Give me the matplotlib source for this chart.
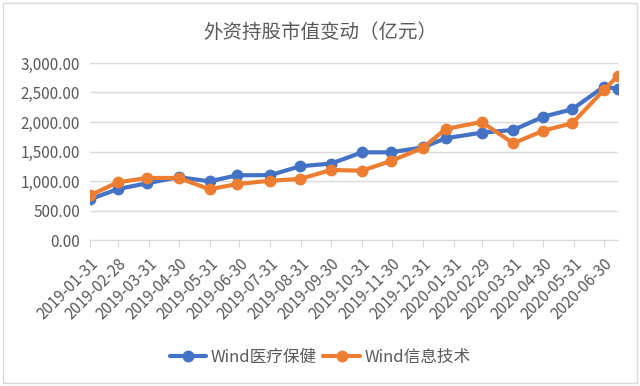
import matplotlib
matplotlib.use("Agg")
import matplotlib.pyplot as plt
from matplotlib.patches import Rectangle
import pandas as pd

plt.rcParams['font.family'] = ['Noto Sans CJK SC', 'DejaVu Sans']

# trading-day dates of each observation
dates = ['2019-01-31', '2019-02-28', '2019-03-29', '2019-04-30', '2019-05-31',
         '2019-06-28', '2019-07-31', '2019-08-30', '2019-09-30', '2019-10-31',
         '2019-11-29', '2019-12-31', '2020-01-23', '2020-02-28', '2020-03-31',
         '2020-04-30', '2020-05-29', '2020-06-30', '2020-07-14']
healthcare = [690, 864, 961, 1065, 995, 1097, 1100, 1250, 1295, 1486,
              1486, 1570, 1724, 1819, 1865, 2090, 2215, 2600, 2560]
infotech = [757, 978, 1051, 1052, 860, 949, 1005, 1035, 1187, 1175,
            1339, 1560, 1881, 2000, 1639, 1853, 1978, 2543, 2785]
tick_dates = ['2019-01-31', '2019-02-28', '2019-03-31', '2019-04-30', '2019-05-31',
              '2019-06-30', '2019-07-31', '2019-08-31', '2019-09-30', '2019-10-31',
              '2019-11-30', '2019-12-31', '2020-01-31', '2020-02-29', '2020-03-31',
              '2020-04-30', '2020-05-31', '2020-06-30']
yticks = [0, 500, 1000, 1500, 2000, 2500, 3000]

x = pd.to_datetime(dates)
gray = '#595959'

fig = plt.figure(figsize=(6.4, 3.86), dpi=100)
fig.patches.append(Rectangle((0.005, 0.008), 0.99, 0.985, transform=fig.transFigure,
                             fill=False, edgecolor='#d9d9d9', linewidth=1))
ax = fig.add_axes([0.1406, 0.3782, 0.8250, 0.4586])

ax.plot(x, healthcare, color='#4472C4', lw=3, marker='o', ms=7.5, label='Wind医疗保健',
        solid_capstyle='round')
ax.plot(x, infotech, color='#ED7D31', lw=3, marker='o', ms=7.5, label='Wind信息技术',
        solid_capstyle='round')

ax.set_ylim(0, 3000)
ax.set_yticks(yticks)
ax.set_yticklabels([f'{v:,.2f}' for v in yticks])
ax.set_xlim(x[0], x[-1])
ax.set_xticks(pd.to_datetime(tick_dates))
ax.set_xticklabels(tick_dates, rotation=45, ha='right', rotation_mode='anchor')

ax.grid(axis='y', color='#d9d9d9', lw=1)
ax.set_axisbelow(True)
for s in ['top', 'right', 'left']:
    ax.spines[s].set_visible(False)
ax.spines['bottom'].set_color('#d9d9d9')
ax.tick_params(axis='y', length=0, labelsize=11, labelcolor=gray, pad=7)
ax.tick_params(axis='x', length=5, color='#d9d9d9', labelsize=11, labelcolor=gray, pad=6)

fig.text(0.5, 0.915, '外资持股市值变动（亿元）', ha='center', va='center',
         fontsize=14, color=gray)
fig.legend(loc='center', bbox_to_anchor=(0.5, 0.075), ncol=2, frameon=False,
           fontsize=12, labelcolor=gray, handlelength=2.2, handletextpad=0.25,
           columnspacing=0.4)

fig.savefig('out.png', dpi=100)
